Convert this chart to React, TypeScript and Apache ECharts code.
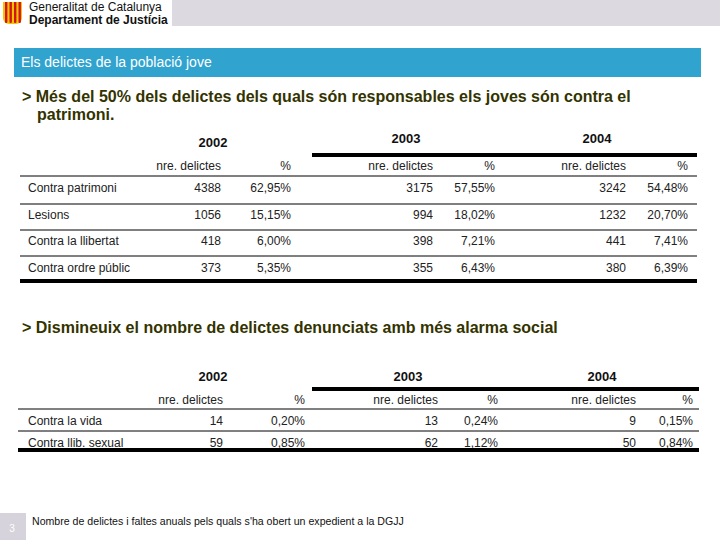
import React, { useEffect, useRef } from "react";
import * as echarts from "echarts";

// ---- Data ----
const years = ["2002", "2003", "2004"];
const subHeaders = ["nre. delictes", "%"];

const table1Rows = ["Contra patrimoni", "Lesions", "Contra la llibertat", "Contra ordre públic"];
const table1Counts = [
  [4388, 3175, 3242],
  [1056, 994, 1232],
  [418, 398, 441],
  [373, 355, 380],
];
const table1Pct = [
  ["62,95%", "57,55%", "54,48%"],
  ["15,15%", "18,02%", "20,70%"],
  ["6,00%", "7,21%", "7,41%"],
  ["5,35%", "6,43%", "6,39%"],
];

const table2Rows = ["Contra la vida", "Contra llib. sexual"];
const table2Counts = [
  [14, 13, 9],
  [59, 62, 50],
];
const table2Pct = [
  ["0,20%", "0,24%", "0,15%"],
  ["0,85%", "1,12%", "0,84%"],
];

const sectionTitle = "Els delictes de la població jove";
const heading1a = "> Més del 50% dels delictes dels quals són responsables els joves són contra el";
const heading1b = "patrimoni.";
const heading2 = "> Dismineuix el nombre de delictes denunciats amb més alarma social";
const footnote = "Nombre de delictes i faltes anuals pels quals s'ha obert un expedient a la DGJJ";
const pageNumber = "3";
const orgLine1 = "Generalitat de Catalunya";
const orgLine2 = "Departament de Justícia";

const FONT = "'Liberation Sans', Arial, sans-serif";
const TXT = "#222222";
const HEAD = "#333300";

type TableSpec = {
  rows: string[];
  counts: number[][];
  pct: string[][];
  yearX: number[];
  yearY: number[];
  thickTopY: number;
  subY: number;
  headLineY: number;
  rowY: number[];
  rowLineY: number[];
  bottomY: number;
  colRight: number[];
  lineX0: number;
  lineX1: number;
};

function buildTable(t: TableSpec): any[] {
  const els: any[] = [];
  years.forEach((yr, i) => {
    els.push({
      type: "text",
      x: t.yearX[i],
      y: t.yearY[i],
      style: { text: yr, font: `bold 13px ${FONT}`, fill: "#111", align: "center", verticalAlign: "middle" },
    });
  });
  els.push({
    type: "rect",
    shape: { x: 312, y: t.thickTopY - 2, width: t.lineX1 - 312, height: 4 },
    style: { fill: "#000" },
  });
  years.forEach((_, i) => {
    subHeaders.forEach((s, j) => {
      els.push({
        type: "text",
        x: t.colRight[i * 2 + j],
        y: t.subY,
        style: { text: s, font: `12px ${FONT}`, fill: TXT, align: "right", verticalAlign: "middle" },
      });
    });
  });
  els.push({
    type: "line",
    shape: { x1: t.lineX0, y1: t.headLineY, x2: t.lineX1, y2: t.headLineY },
    style: { stroke: "#000", lineWidth: 1 },
  });
  t.rows.forEach((name, r) => {
    els.push({
      type: "text",
      x: 28,
      y: t.rowY[r],
      style: { text: name, font: `12px ${FONT}`, fill: TXT, align: "left", verticalAlign: "middle" },
    });
    years.forEach((_, i) => {
      els.push({
        type: "text",
        x: t.colRight[i * 2],
        y: t.rowY[r],
        style: { text: String(t.counts[r][i]), font: `12px ${FONT}`, fill: TXT, align: "right", verticalAlign: "middle" },
      });
      els.push({
        type: "text",
        x: t.colRight[i * 2 + 1],
        y: t.rowY[r],
        style: { text: t.pct[r][i], font: `12px ${FONT}`, fill: TXT, align: "right", verticalAlign: "middle" },
      });
    });
  });
  t.rowLineY.forEach((ly) => {
    els.push({
      type: "line",
      shape: { x1: t.lineX0, y1: ly, x2: t.lineX1, y2: ly },
      style: { stroke: "#000", lineWidth: 1 },
    });
  });
  els.push({
    type: "rect",
    shape: { x: t.lineX0, y: t.bottomY - 2, width: t.lineX1 - t.lineX0, height: 4 },
    style: { fill: "#000" },
  });
  return els;
}

export default function App() {
  const ref = useRef<HTMLDivElement>(null);

  useEffect(() => {
    if (!ref.current) return;
    const chart = echarts.init(ref.current, undefined, { renderer: "svg" });

    const els: any[] = [];

    // Header band
    els.push({ type: "rect", shape: { x: 172, y: 0, width: 548, height: 26 }, style: { fill: "#dcd9e1" } });
    // Logo (Catalan stripes)
    els.push({ type: "rect", shape: { x: 3, y: 2, width: 19, height: 22, r: [0, 0, 6, 6] }, style: { fill: "#f5c400" } });
    [0, 1, 2, 3].forEach((k) => {
      els.push({
        type: "rect",
        shape: { x: 5 + k * 4.5, y: 2, width: 2.4, height: 21, r: [0, 0, 1, 1] },
        style: { fill: "#d2141c" },
      });
    });
    els.push({
      type: "text",
      x: 29,
      y: 6.5,
      style: { text: orgLine1, font: `12px ${FONT}`, fill: "#111", verticalAlign: "middle" },
    });
    els.push({
      type: "text",
      x: 29,
      y: 19.5,
      style: { text: orgLine2, font: `bold 12px ${FONT}`, fill: "#111", verticalAlign: "middle" },
    });

    // Section bar
    els.push({ type: "rect", shape: { x: 14, y: 48, width: 687, height: 29 }, style: { fill: "#30a3cf" } });
    els.push({
      type: "text",
      x: 21,
      y: 62,
      style: { text: sectionTitle, font: `14px ${FONT}`, fill: "#ffffff", verticalAlign: "middle" },
    });

    // Headings
    els.push({
      type: "text",
      x: 22,
      y: 96,
      style: { text: heading1a, font: `bold 16px ${FONT}`, fill: HEAD, verticalAlign: "middle" },
    });
    els.push({
      type: "text",
      x: 37,
      y: 114,
      style: { text: heading1b, font: `bold 16px ${FONT}`, fill: HEAD, verticalAlign: "middle" },
    });
    els.push({
      type: "text",
      x: 22,
      y: 327,
      style: { text: heading2, font: `bold 16px ${FONT}`, fill: HEAD, verticalAlign: "middle" },
    });

    els.push(
      ...buildTable({
        rows: table1Rows,
        counts: table1Counts,
        pct: table1Pct,
        yearX: [213, 406, 597],
        yearY: [142, 138, 138],
        thickTopY: 155,
        subY: 166,
        headLineY: 176,
        rowY: [188, 215, 241, 268],
        rowLineY: [204, 230, 256],
        bottomY: 281,
        colRight: [221, 291, 433, 495, 626, 688],
        lineX0: 20,
        lineX1: 697,
      })
    );

    els.push(
      ...buildTable({
        rows: table2Rows,
        counts: table2Counts,
        pct: table2Pct,
        yearX: [213, 408, 602],
        yearY: [376, 376, 376],
        thickTopY: 389,
        subY: 400,
        headLineY: 409,
        rowY: [421, 443],
        rowLineY: [431],
        bottomY: 450,
        colRight: [223, 305, 438, 498, 636, 693],
        lineX0: 18,
        lineX1: 699,
      })
    );

    // Footer
    els.push({ type: "rect", shape: { x: 0, y: 513, width: 26, height: 27 }, style: { fill: "#d6d3dc" } });
    els.push({
      type: "text",
      x: 12,
      y: 528,
      style: { text: pageNumber, font: `10px ${FONT}`, fill: "#ffffff", align: "center", verticalAlign: "middle" },
    });
    els.push({
      type: "text",
      x: 32,
      y: 521,
      style: { text: footnote, font: `10.6px ${FONT}`, fill: "#111", verticalAlign: "middle" },
    });

    chart.setOption({
      animation: false,
      backgroundColor: "#ffffff",
      graphic: { elements: els },
    });

    return () => chart.dispose();
  }, []);

  return (
    <div
      ref={ref}
      style={{ position: "fixed", left: 0, top: 0, width: 720, height: 540 }}
    />
  );
}
